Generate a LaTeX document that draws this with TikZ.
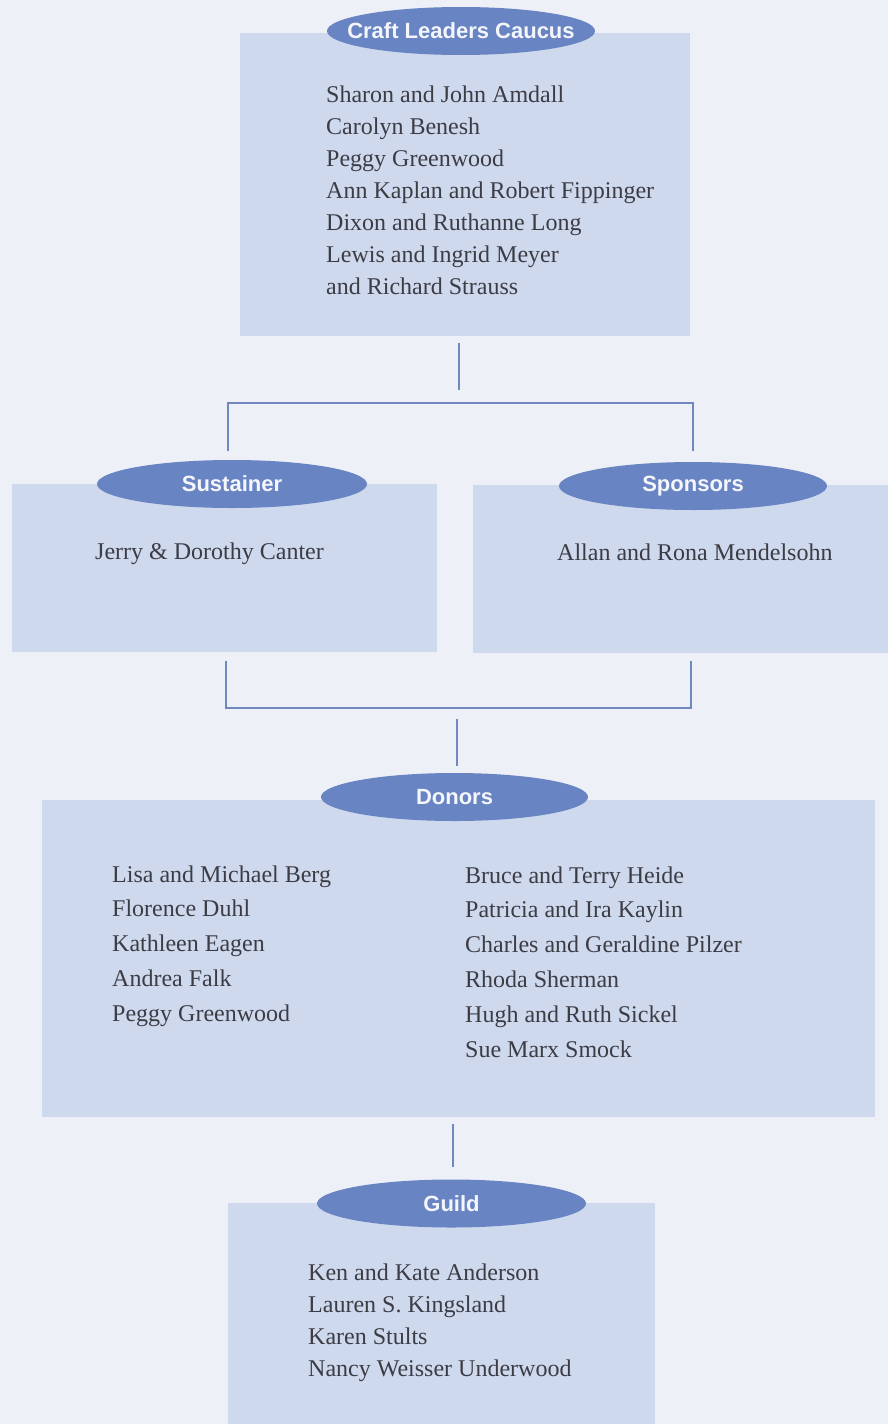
\documentclass[tikz,border=0pt]{standalone}
\usepackage{fontspec}
\setmainfont{Liberation Serif}
\newfontfamily\hdrfont{Liberation Sans}
\usetikzlibrary{shapes.geometric}
\definecolor{bgc}{RGB}{238,240,248}
\definecolor{boxc}{RGB}{206,217,238}
\definecolor{ellc}{RGB}{104,132,194}
\definecolor{linec}{RGB}{112,136,189}
\definecolor{txtc}{RGB}{60,60,68}
\definecolor{hdrc}{RGB}{244,246,252}
\tikzset{
  panel/.style={rectangle, fill=boxc, draw=none, inner sep=0pt},
  badge/.style={ellipse, fill=ellc, draw=none, inner sep=0pt, minimum width=268pt, minimum height=48pt},
  badgetext/.style={inner sep=0pt, font=\hdrfont\bfseries\fontsize{22}{22}\selectfont, text=hdrc},
  person/.style={anchor=base west, inner sep=0pt, font=\fontsize{24}{24}\selectfont, text=txtc},
  conn/.style={draw=linec, line width=1.3pt}
}
\begin{document}
\begin{tikzpicture}[x=1pt,y=-1pt]
\fill[bgc] (0,0) rectangle (888,1424);
\useasboundingbox (0,0) rectangle (888,1424);
% panels
\node[panel, minimum width=450pt, minimum height=303pt] (ccbox) at (465,184.5) {};
\node[panel, minimum width=425pt, minimum height=168pt] (susbox) at (224.5,568) {};
\node[panel, minimum width=415pt, minimum height=168pt] (spobox) at (680.5,569) {};
\node[panel, minimum width=833pt, minimum height=317pt] (donbox) at (458.5,958.5) {};
\node[panel, minimum width=427pt, minimum height=221pt] (guildbox) at (441.5,1313.5) {};
% badges
\node[badge] (cce) at (461,31) {};
\node[badge, minimum width=270pt] (suse) at (232,484) {};
\node[badge] (spoe) at (693,486) {};
\node[badge, minimum width=267pt] (done) at (454.5,797) {};
\node[badge, minimum width=269pt] (guilde) at (451.5,1203.5) {};
\node[badgetext] (ccet) at (cce) {Craft Leaders Caucus};
\node[badgetext] (suset) at (suse) {Sustainer};
\node[badgetext] (spoet) at (spoe) {Sponsors};
\node[badgetext] (donet) at (done) {Donors};
\node[badgetext] (guildet) at (guilde) {Guild};
% names
\foreach \t [count=\i] in {Sharon and John Amdall, Carolyn Benesh, Peggy Greenwood,
  Ann Kaplan and Robert Fippinger, Dixon and Ruthanne Long, Lewis and Ingrid Meyer, and Richard Strauss}
  \node[person] (cc\i) at (326,{102+32*(\i-1)}) {\t};
\node[person] (sus1) at (95,559) {Jerry \& Dorothy Canter};
\node[person] (spo1) at (557,560) {Allan and Rona Mendelsohn};
\foreach \t [count=\i] in {Lisa and Michael Berg, Florence Duhl, Kathleen Eagen, Andrea Falk, Peggy Greenwood}
  \node[person] (dl\i) at (112,{882+34.8*(\i-1)}) {\t};
\foreach \t [count=\i] in {Bruce and Terry Heide, Patricia and Ira Kaylin, Charles and Geraldine Pilzer,
  Rhoda Sherman, Hugh and Ruth Sickel, Sue Marx Smock}
  \node[person] (dr\i) at (465,{883+34.8*(\i-1)}) {\t};
\foreach \t [count=\i] in {Ken and Kate Anderson, Lauren S. Kingsland, Karen Stults, Nancy Weisser Underwood}
  \node[person] (g\i) at (308,{1280+32*(\i-1)}) {\t};
% connector points
\coordinate (s1a) at (459,343);
\coordinate (s1b) at (459,390);
\coordinate (b1l) at (228,451);
\coordinate (b1r) at (693,451);
\coordinate (b1y) at (0,403);
\coordinate (b2l) at (226,661);
\coordinate (b2r) at (691,661);
\coordinate (b2y) at (0,708);
\coordinate (s2a) at (457,719);
\coordinate (s2b) at (457,766);
\coordinate (s3a) at (453,1124);
\coordinate (s3b) at (453,1167);
% connectors
\draw[conn] (s1a) -- (s1b);
\draw[conn] (b1l) -- (b1l |- b1y) -- (b1r |- b1y) -- (b1r);
\draw[conn] (b2l) -- (b2l |- b2y) -- (b2r |- b2y) -- (b2r);
\draw[conn] (s2a) -- (s2b);
\draw[conn] (s3a) -- (s3b);
\end{tikzpicture}
\end{document}
